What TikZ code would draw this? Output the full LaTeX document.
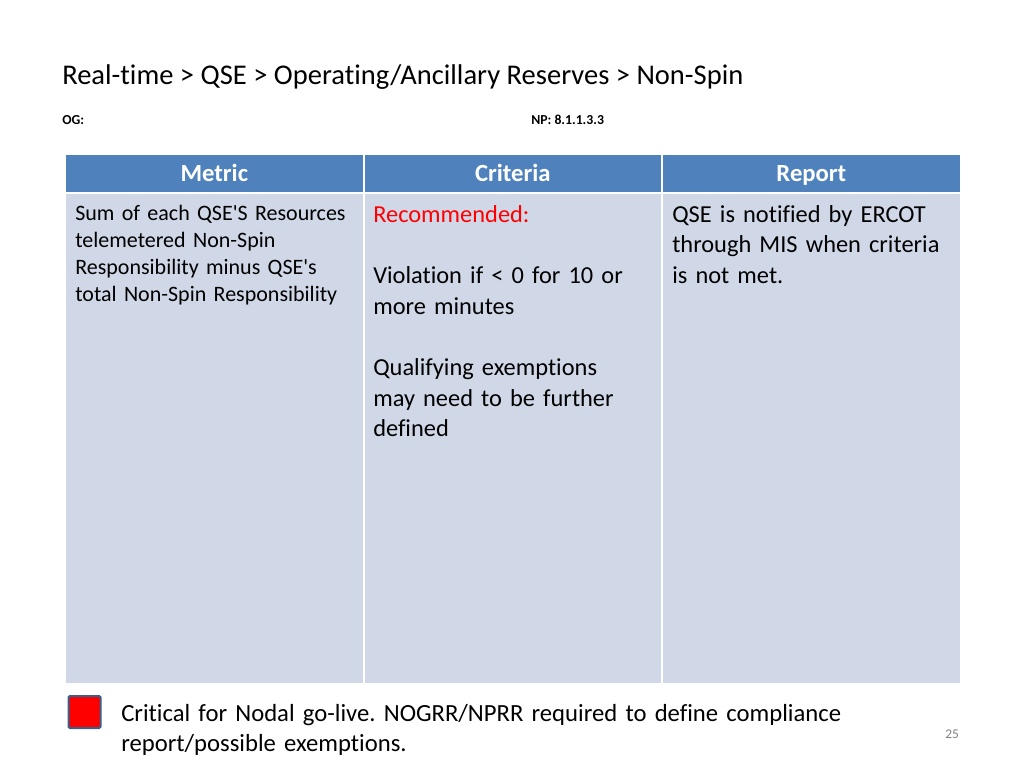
\documentclass[tikz,border=0pt]{standalone}
\usepackage{fontspec}
\setmainfont{Carlito}[Ligatures={ResetAll,NoCommon}]
\definecolor{hdblue}{HTML}{4F81BD}
\definecolor{cellblue}{HTML}{D0D8E8}
\definecolor{boxedge}{HTML}{3A5F8B}
\frenchspacing
\tikzset{
  hdcell/.style={draw=white, line width=1.5pt, fill=hdblue, minimum width=224pt, minimum height=30pt, anchor=north west, inner sep=0pt},
  bodycell/.style={draw=white, line width=1.5pt, fill=cellblue, minimum width=224pt, minimum height=368pt, anchor=north west, inner sep=0pt},
  hdtext/.style={anchor=base, inner sep=0pt, text=white, font=\fontsize{18.5}{23}\selectfont\bfseries},
  celltext/.style={anchor=base west, inner sep=0pt, align=left, text width=215pt}
}
\begin{document}
\begin{tikzpicture}[x=0.75pt, y=-0.75pt]
    \useasboundingbox (0,0) rectangle (1024,768);

    \node[anchor=base west, inner sep=0pt, font=\fontsize{21.4}{25}\selectfont] (title) at (62,84) {Real-time > QSE > Operating/Ancillary Reserves > Non-Spin};
    \node[anchor=base west, inner sep=0pt, font=\fontsize{10.3}{12}\selectfont\bfseries] (og) at (62,124) {OG:};
    \node[anchor=base west, inner sep=0pt, font=\fontsize{10.3}{12}\selectfont\bfseries] (np) at (531,124) {NP: 8.1.1.3.3};

    % header row
    \node[hdcell] (hdMetric) at (64,153) {};
    \node[hdcell] (hdCriteria) at (362.5,153) {};
    \node[hdcell] (hdReport) at (661,153) {};
    \node[hdtext] at (hdMetric.center |- 0,181) {Metric};
    \node[hdtext] at (hdCriteria.center |- 0,181) {Criteria};
    \node[hdtext] at (hdReport.center |- 0,181) {Report};

    % body row
    \node[bodycell] (metric) at (64,192) {};
    \node[bodycell] (criteria) at (362.5,192) {};
    \node[bodycell] (report) at (661,192) {};

    \node[celltext, font=\fontsize{16.5}{20.3}\selectfont] (metricTxt) at (75,220)
        {Sum of each QSE\textquotesingle S Resources\\ telemetered Non-Spin\\ Responsibility minus QSE\textquotesingle s\\ total Non-Spin Responsibility};
    \node[celltext, font=\fontsize{18.3}{23}\selectfont] (critTxt) at (373,222)
        {\textcolor{red}{Recommended:}\\[23pt] Violation if < 0 for 10 or\\ more minutes\\[23pt] Qualifying exemptions\\ may need to be further\\ defined};
    \node[celltext, font=\fontsize{18.3}{23.2}\selectfont] (reportTxt) at (672,222)
        {QSE is notified by ERCOT\\ through MIS when criteria\\ is not met.};

    % legend
    \node[draw=boxedge, fill=red, line width=1.5pt, rounded corners=1pt, minimum width=24pt, minimum height=24pt, inner sep=0pt] (critBox) at (84.5,712) {};
    \node[celltext, text width=600pt, font=\fontsize{18.5}{22.9}\selectfont] (critTxt2) at (121,721)
        {Critical for Nodal go-live. NOGRR/NPRR required to define compliance\\ report/possible exemptions.};
    \node[anchor=base west, inner sep=0pt, text=gray, font=\fontsize{10}{12}\selectfont] (pgnum) at (945,738) {25};
\end{tikzpicture}
\end{document}
